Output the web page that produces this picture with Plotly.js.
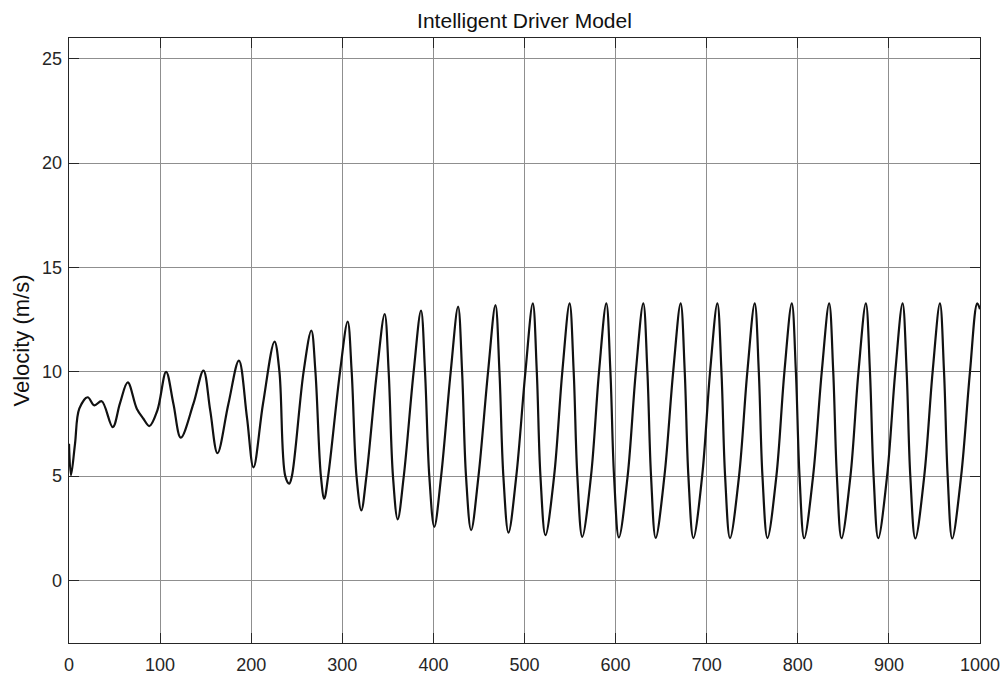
<!DOCTYPE html>
<html>
<head>
<meta charset="utf-8">
<script src="https://cdn.plot.ly/plotly-3.0.1.min.js"></script>
<style>
html,body{margin:0;padding:0;background:#fff;}
#chart{width:1006px;height:679px;}
</style>
</head>
<body>
<div id="chart"></div>
<script>
var chartTitle = "Intelligent Driver Model";
var yTitle = "Velocity (m/s)";
var xTicks = [0, 100, 200, 300, 400, 500, 600, 700, 800, 900, 1000];
var yTicks = [0, 5, 10, 15, 20, 25];

var time = [
  0, 2.2, 6.6, 11.3, 20.5, 27.8, 35.9, 48, 56, 64.5, 74.4, 81.7, 88.3, 97, 106.6, 114.6, 122.7,
  136.6, 147.6, 155, 163, 175, 186.5, 195.3, 202.5, 213, 225.6,
  231, 237.4, 241.8, 244.7, 257.5, 266,
  270.5, 276.5, 280.2, 284.5, 297.5, 305.9,
  310.3, 315.6, 320.9, 326.5, 338, 346.5,
  350.9, 355.6, 360.8, 367.5, 378.3, 386.4,
  390.8, 395.5, 401, 408.5, 419, 427.1,
  431.5, 435.8, 441.4, 449.5, 460, 468.1,
  472.5, 476.8, 482.4, 491, 501, 509.1,
  513.5, 517.5, 523, 532.5, 541.5, 549.5,
  554, 558, 563.4, 573, 581.8, 589.8,
  594.3, 598.3, 603.6, 613.2, 622.2, 630.4,
  634.9, 638.9, 644, 653.6, 663.2, 671.4,
  675.9, 679.9, 685.4, 695, 703.7, 711.7,
  716.2, 720.2, 725.6, 735.5, 744.6, 752.7,
  757.2, 761.2, 766.7, 776.5, 785.3, 793.4,
  797.9, 801.9, 807, 816.8, 826.3, 834.4,
  838.9, 842.9, 848, 857.8, 866.6, 874.7,
  879.2, 883.2, 888.3, 898, 907, 915,
  919.5, 923.5, 929, 938.8, 948, 956,
  960.5, 964.5, 969.5, 979.3, 989, 997,
  1000
];

var velocity = [
  6.55, 5.04, 6.55, 8.23, 8.78, 8.39, 8.59, 7.35, 8.5, 9.49, 8.23, 7.75, 7.4, 8.15, 10.0, 8.47, 6.84,
  8.47, 10.06, 8.15, 6.1, 8.47, 10.54, 7.83, 5.42, 8.48, 11.45,
  10, 5, 4.64, 5, 10, 11.98,
  10, 5, 3.92, 5, 10, 12.41,
  10, 5, 3.36, 5, 10, 12.77,
  10, 5, 2.93, 5, 10, 12.93,
  10, 5, 2.57, 5, 10, 13.12,
  10, 5, 2.41, 5, 10, 13.2,
  10, 5, 2.29, 5, 10, 13.28,
  10, 5, 2.17, 5, 10, 13.28,
  10, 5, 2.09, 5, 10, 13.28,
  10, 5, 2.06, 5, 10, 13.28,
  10, 5, 2.04, 5, 10, 13.28,
  10, 5, 2.03, 5, 10, 13.28,
  10, 5, 2.03, 5, 10, 13.28,
  10, 5, 2.03, 5, 10, 13.28,
  10, 5, 2.02, 5, 10, 13.28,
  10, 5, 2.02, 5, 10, 13.28,
  10, 5, 2.02, 5, 10, 13.28,
  10, 5, 2.01, 5, 10, 13.28,
  10, 5, 2.01, 5, 10, 13.28,
  13.0
];

var trace = {
  x: time,
  y: velocity,
  type: "scatter",
  mode: "lines",
  line: {color: "#111111", width: 2.2, shape: "spline", smoothing: 1},
  hoverinfo: "x+y"
};

var axisCommon = {
  showline: true,
  linecolor: "#262626",
  linewidth: 1.3,
  mirror: "ticks",
  ticks: "inside",
  ticklen: 10,
  tickwidth: 1,
  tickcolor: "#262626",
  showgrid: true,
  gridcolor: "#8f8f8f",
  gridwidth: 1,
  zeroline: false,
  tickfont: {family: "Liberation Sans, Arial, sans-serif", size: 18, color: "#262626"}
};

var layout = {
  width: 1006,
  height: 679,
  paper_bgcolor: "#ffffff",
  plot_bgcolor: "#ffffff",
  showlegend: false,
  margin: {l: 69, r: 26, t: 38, b: 36, pad: 0},
  title: {
    text: chartTitle,
    font: {family: "Liberation Sans, Arial, sans-serif", size: 21, color: "#111111"},
    x: 0.5, xanchor: "center", xref: "paper",
    y: 1 - 21/679, yanchor: "middle", yref: "container"
  },
  xaxis: Object.assign({}, axisCommon, {
    range: [0, 1000],
    tickvals: xTicks,
    ticktext: xTicks.map(String),
    ticklabelstandoff: 5,
    automargin: false
  }),
  yaxis: Object.assign({}, axisCommon, {
    range: [-3, 26],
    tickvals: yTicks,
    ticktext: yTicks.map(String),
    ticklabelstandoff: 2,
    automargin: false,
    title: {text: yTitle, font: {family: "Liberation Sans, Arial, sans-serif", size: 22, color: "#111111"}, standoff: 6}
  })
};

Plotly.newPlot("chart", [trace], layout, {displayModeBar: false, staticPlot: true});
</script>
</body>
</html>
